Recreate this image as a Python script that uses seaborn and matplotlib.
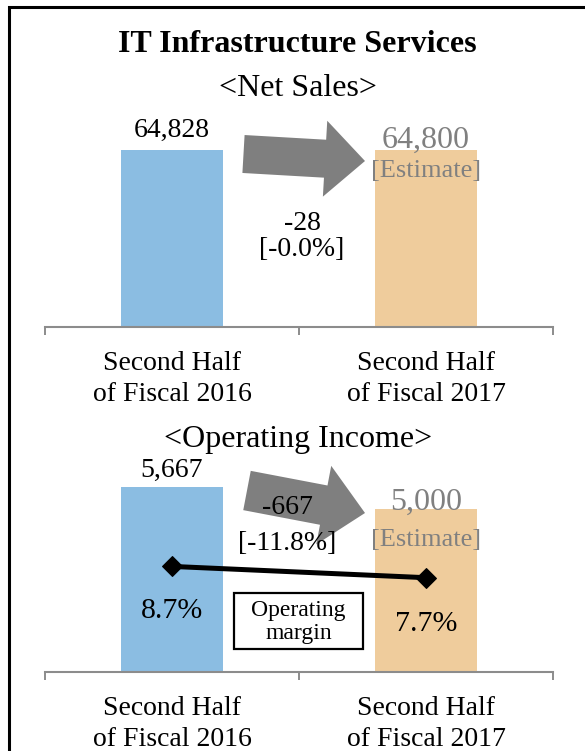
import matplotlib
matplotlib.use("Agg")
import matplotlib.pyplot as plt
import seaborn as sns
from matplotlib.patches import FancyArrow, Rectangle

# ---- data -------------------------------------------------------------
periods = ["Second Half\nof Fiscal 2016", "Second Half\nof Fiscal 2017"]
net_sales = [64828, 64800]
operating_income = [5667, 5000]
is_estimate = [False, True]

# ---- style ------------------------------------------------------------
sns.set_theme(style="white")
plt.rcParams["font.family"] = ["Liberation Serif", "DejaVu Serif"]
plt.rcParams["text.color"] = "black"
plt.rcParams["xtick.labelcolor"] = "black"

W, H, DPI = 585, 751, 100
fig = plt.figure(figsize=(W / DPI, H / DPI), dpi=DPI)

BAR_COLORS = ["#8BBDE2", "#EFCC9C"]
AXIS_GRAY = "#8C8C8C"
EST_GRAY = "#808080"
ARROW_GRAY = "#7F7F7F"


def px_rect(left, top, right, bottom):
    """Axes rectangle from pixel edges (origin at top-left)."""
    return [left / W, 1 - bottom / H, (right - left) / W, (bottom - top) / H]


def draw_panel(ax, values, ymax, offsets):
    sns.barplot(x=periods, y=values, hue=periods, palette=BAR_COLORS,
                width=0.4, saturation=1, linewidth=0, legend=False, ax=ax)
    ax.set_xlim(-0.5, 1.5)
    ax.set_ylim(0, ymax)
    ax.set_xlabel("")
    ax.set_ylabel("")
    ax.set_yticks([])
    for side in ("left", "right", "top"):
        ax.spines[side].set_visible(False)
    ax.spines["bottom"].set_color(AXIS_GRAY)
    ax.spines["bottom"].set_linewidth(1.5)
    ax.set_xticks([0, 1])
    ax.set_xticklabels(periods, fontsize=20, linespacing=1.32, color="black")
    ax.set_xticks([-0.5, 0.5, 1.5], minor=True)
    ax.tick_params(axis="x", which="major", length=0, pad=17)
    ax.tick_params(axis="x", which="minor", length=5.8, width=1.4,
                   color=AXIS_GRAY, direction="out", bottom=True)
    val_off, est_off, tag_off = offsets
    for i, (v, est) in enumerate(zip(values, is_estimate)):
        if est:
            ax.annotate(f"{v:,}", (i, v), xytext=(0, est_off),
                        textcoords="offset points", ha="center", va="center",
                        fontsize=23, color=EST_GRAY)
            ax.annotate("[Estimate]", (i, v), xytext=(0, tag_off),
                        textcoords="offset points", ha="center", va="center",
                        fontsize=19, color=EST_GRAY)
        else:
            ax.annotate(f"{v:,}", (i, v), xytext=(0, val_off),
                        textcoords="offset points", ha="center", va="center",
                        fontsize=20, color="black")


# ---- net sales panel ----------------------------------------------------
ax_top = fig.add_axes(px_rect(45, 100, 553, 327))
draw_panel(ax_top, net_sales, 83000, (14, 7, -15.5))

# ---- operating income panel --------------------------------------------
ax_bot = fig.add_axes(px_rect(45, 470, 553, 672))
draw_panel(ax_bot, operating_income, 6200, (12.5, 5, -22))

# operating margin line on a secondary scale
margins = [oi / ns * 100 for oi, ns in zip(operating_income, net_sales)]
ax_m = ax_bot.twinx()
sns.lineplot(x=[0, 1], y=margins, ax=ax_m, color="black", linewidth=3.6,
             marker="D", markersize=10, markeredgecolor="black")
ax_m.set_ylim(-0.85, 17.5)
ax_m.set_axis_off()
for i, (m, off) in enumerate(zip(margins, (-32, -33.5))):
    ax_m.annotate(f"{m:.1f}%", (i, m), xytext=(0, off),
                  textcoords="offset points", ha="center", va="center",
                  fontsize=21.5, color="black")

# ---- overlay in pixel units: frame, headings, arrows, change labels ----
ov = fig.add_axes([0, 0, 1, 1], zorder=5)
ov.set_xlim(0, W)
ov.set_ylim(H, 0)
ov.set_axis_off()

ov.plot([9, 9, W], [H, 7, 7], color="black", linewidth=2.2,
        solid_joinstyle="miter", clip_on=False)

ov.text(297, 45, "IT Infrastructure Services", ha="center", va="center",
        fontsize=23, fontweight="bold")
ov.text(298, 88, "<Net Sales>", ha="center", va="center", fontsize=23)
ov.text(298, 440, "<Operating Income>", ha="center", va="center", fontsize=23)

ov.add_patch(FancyArrow(243.5, 154, 121.5, 7, width=38, head_width=76,
                        head_length=40, length_includes_head=True,
                        color=ARROW_GRAY, linewidth=0, zorder=1))
ov.add_patch(FancyArrow(247, 490.5, 118, 22.5, width=40, head_width=80,
                        head_length=42, length_includes_head=True,
                        color=ARROW_GRAY, linewidth=0, zorder=1))

for values, (cx, y1, y2) in ((net_sales, (302, 223, 250)),
                             (operating_income, (287, 508, 543))):
    diff = values[1] - values[0]
    pct = diff / values[0] * 100
    ov.text(cx, y1, f"{diff:,}", ha="center", va="center", fontsize=20, zorder=3)
    ov.text(cx, y2, f"[{pct:.1f}%]", ha="center", va="center", fontsize=20, zorder=3)

ov.add_patch(Rectangle((234, 593), 129, 56, facecolor="white",
                       edgecolor="black", linewidth=1.6, zorder=2))
ov.text(298.5, 622, "Operating\nmargin", ha="center", va="center",
        fontsize=17, linespacing=1.1, zorder=3)

fig.savefig("out.png", dpi=DPI)
